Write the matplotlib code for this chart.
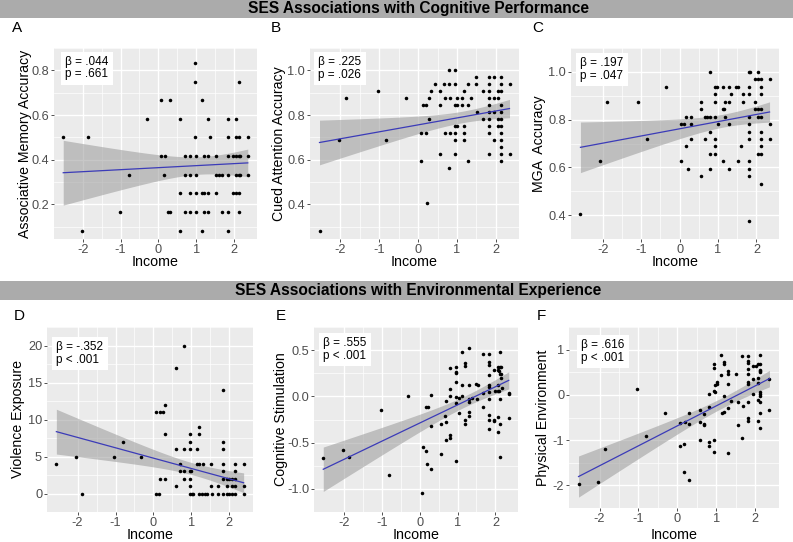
import numpy as np
import matplotlib
matplotlib.use("Agg")
import matplotlib.pyplot as plt
from matplotlib.patches import Rectangle

plt.rcParams['font.family'] = ['Liberation Sans', 'DejaVu Sans']
plt.rcParams['axes.unicode_minus'] = False

# ---------------- data ----------------
A_income = [0.98,
            0.98, 2.14,
            0.06, 0.30, 1.15,
            -0.31, 0.58, 1.31, 1.84, 2.06,
            -2.52, -1.87, 0.98, 1.38, 1.84, 2.06, 2.13, 2.37,
            0.06, 0.18, 0.71, 0.83, 0.99, 1.20, 1.31, 1.53, 1.84, 1.97, 2.06, 2.13, 2.17, 2.37,
            -0.79, 0.15, 0.71, 0.83, 0.99, 1.53, 1.62, 1.69, 1.84, 2.06, 2.13, 2.17, 2.37,
            0.58, 0.83, 1.00, 1.15, 1.21, 1.31, 1.53, 1.97, 2.06, 2.13,
            -1.02, 0.26, 0.32, 0.71, 0.83, 0.99, 1.21, 1.31, 1.69, 1.84, 2.15,
            -2.01, 0.58, 1.15, 1.84]
A_memory = [0.833,
            0.750, 0.750,
            0.667, 0.667, 0.667,
            0.583, 0.583, 0.583, 0.583, 0.583,
            0.500, 0.500, 0.500, 0.500, 0.500, 0.500, 0.500, 0.500,
            0.417, 0.417, 0.417, 0.417, 0.417, 0.417, 0.417, 0.417, 0.417, 0.417, 0.417, 0.417, 0.417, 0.417,
            0.333, 0.333, 0.333, 0.333, 0.333, 0.333, 0.333, 0.333, 0.333, 0.333, 0.333, 0.333, 0.333,
            0.250, 0.250, 0.250, 0.250, 0.250, 0.250, 0.250, 0.250, 0.250, 0.250,
            0.167, 0.167, 0.167, 0.167, 0.167, 0.167, 0.167, 0.167, 0.167, 0.167, 0.167,
            0.083, 0.083, 0.083, 0.083]

B_income = [0.80, 0.95,
            1.49, 1.82, 1.94, 2.12,
            0.43, 0.66, 0.79, 0.95, 1.29, 1.49, 1.81, 2.12, 2.35,
            -1.04, 0.32, 0.57, 1.18, 1.67, 1.82, 2.06, 2.12,
            -1.87, -0.32, 0.29, 0.69, 0.81, 0.99, 1.13, 1.36, 1.82, 1.94, 2.06,
            0.13, 0.19, 0.57, 0.95, 1.00, 1.13, 1.29, 1.82, 2.12,
            1.52, 1.82, 1.94, 2.12,
            0.29, 1.67, 1.82, 2.06, 2.12,
            0.95, 1.01, 1.18, 1.82, 2.06, 2.12,
            0.06, 0.19, 0.69, 0.81, 0.95, 1.18, 1.82, 2.12,
            -2.03, -0.82, 0.95, 1.18, 1.94, 2.12,
            2.12,
            0.57, 0.95, 1.82, 2.12, 2.35,
            0.06, 1.29, 2.12,
            0.80,
            0.22,
            -2.54]
B_attention = [1.000, 1.000,
               0.969, 0.969, 0.969, 0.969,
               0.938, 0.938, 0.938, 0.938, 0.938, 0.938, 0.938, 0.938, 0.938,
               0.906, 0.906, 0.906, 0.906, 0.906, 0.906, 0.906, 0.906,
               0.875, 0.875, 0.875, 0.875, 0.875, 0.875, 0.875, 0.875, 0.875, 0.875, 0.875,
               0.844, 0.844, 0.844, 0.844, 0.844, 0.844, 0.844, 0.844, 0.844,
               0.813, 0.813, 0.813, 0.813,
               0.781, 0.781, 0.781, 0.781, 0.781,
               0.750, 0.750, 0.750, 0.750, 0.750, 0.750,
               0.719, 0.719, 0.719, 0.719, 0.719, 0.719, 0.719, 0.719,
               0.688, 0.688, 0.688, 0.688, 0.688, 0.688,
               0.656,
               0.625, 0.625, 0.625, 0.625, 0.625,
               0.594, 0.594, 0.594,
               0.563,
               0.406,
               0.281]

C_income = [0.79, 1.81, 1.84, 2.05,
            1.96, 2.05, 2.11, 2.34,
            -0.35, 0.93, 0.96, 1.12, 1.29, 1.48, 1.51, 1.81, 2.11,
            0.93, 1.34, 1.65, 1.81, 2.11,
            -1.90, -1.07, 0.55, 0.93, 1.19, 1.29, 1.65, 1.96,
            0.55, 1.12, 1.16, 1.96, 2.05, 2.11,
            0.16, 0.29, 0.66, 0.70, 0.79, 0.93, 1.19, 1.81, 2.05, 2.11,
            0.04, 0.11, 0.29, 1.00, 1.29, 1.81, 2.34,
            0.79, 1.81, 2.11,
            -0.84, 0.29, 0.66, 0.93, 1.81, 2.11, 2.34,
            0.16, 0.93, 1.61, 2.11,
            0.79, 0.93, 2.05, 2.11,
            -2.06, 0.04, 1.12, 1.51, 1.81,
            0.21, 0.79, 1.29, 1.81,
            0.55, 1.81,
            2.11,
            -2.58,
            1.81]
C_mga = [1.000, 1.000, 1.000, 1.000,
         0.969, 0.969, 0.969, 0.969,
         0.938, 0.938, 0.938, 0.938, 0.938, 0.938, 0.938, 0.938, 0.938,
         0.906, 0.906, 0.906, 0.906, 0.906,
         0.875, 0.875, 0.875, 0.875, 0.875, 0.875, 0.875, 0.875,
         0.844, 0.844, 0.844, 0.844, 0.844, 0.844,
         0.813, 0.813, 0.813, 0.813, 0.813, 0.813, 0.813, 0.813, 0.813, 0.813,
         0.781, 0.781, 0.781, 0.781, 0.781, 0.781, 0.781,
         0.750, 0.750, 0.750,
         0.719, 0.719, 0.719, 0.719, 0.719, 0.719, 0.719,
         0.688, 0.688, 0.688, 0.688,
         0.656, 0.656, 0.656, 0.656,
         0.625, 0.625, 0.625, 0.625, 0.625,
         0.594, 0.594, 0.594, 0.594,
         0.563, 0.563,
         0.531,
         0.406,
         0.375]

D_income = [0.81,
            0.59,
            1.84,
            0.30,
            0.08, 0.18, 0.25,
            1.20,
            0.30, 0.97, 1.20,
            -0.81, 0.97, 1.84,
            0.59, 0.81, 0.97, 1.16, 1.84,
            -2.05, -1.05, -0.32,
            -2.56, 0.70, 1.16, 1.21, 1.31, 1.52, 1.84, 2.15, 2.38,
            0.70, 0.81, 0.97, 1.00, 1.84, 2.15,
            0.18, 0.30, 0.81, 0.97, 1.84, 1.95, 2.00, 2.08, 2.15,
            0.59, 0.97, 1.52, 1.70, 1.95, 2.08, 2.15, 2.38,
            -1.88, 0.08, 0.15, 0.97, 1.01, 1.05, 1.20, 1.27, 1.37, 1.41, 1.54, 1.70, 1.84, 1.95, 2.00, 2.08, 2.15, 2.38]
D_violence = [20,
              17,
              14,
              12,
              11, 11, 11,
              9,
              8, 8, 8,
              7, 7, 7,
              6, 6, 6, 6, 6,
              5, 5, 5,
              4, 4, 4, 4, 4, 4, 4, 4, 4,
              3, 3, 3, 3, 3, 3,
              2, 2, 2, 2, 2, 2, 2, 2, 2,
              1, 1, 1, 1, 1, 1, 1, 1,
              0, 0, 0, 0, 0, 0, 0, 0, 0, 0, 0, 0, 0, 0, 0, 0, 0, 0]

E_income = [1.30, 1.12, 2.13, 1.67, 1.82, 1.19, 1.19, 1.82, 1.82, 0.80,
            0.96, 2.07, 2.11, 2.14, 1.96, 2.06, 2.09, 0.96, 0.96, 2.11,
            2.14, 1.82, 2.14, 0.96, 1.13, 1.30, 1.49, 1.54, 1.82, 1.82,
            2.06, 2.18, 0.80, 2.00, 2.06, 2.09, 1.84, 1.67, 2.35, 2.35,
            -0.30, 0.30, 0.80, 1.12, 0.97, 1.03, 1.30, 1.37, 2.11, 1.52,
            1.84, 0.69, 0.97, 1.30, 0.18, 0.23, 1.66, -1.03, 1.04, 1.30,
            0.68, 1.82, 1.30, 2.06, 2.35, 1.82, 1.96, 1.19, 0.69, 1.96,
            0.57, 1.19, 2.13, 0.30, 2.06, 1.82, 0.80, 0.80, 0.69, 0.08,
            0.16, 0.57, -2.02, -1.86, -2.54, 2.13, 0.19, 0.96, 0.31, -0.81,
            0.07]
E_stimulation = [0.527, 0.485, 0.485, 0.460, 0.460, 0.360, 0.327, 0.370, 0.340, 0.310,
                 0.320, 0.315, 0.315, 0.315, 0.290, 0.280, 0.270, 0.267, 0.255, 0.240,
                 0.240, 0.236, 0.197, 0.158, 0.120, 0.120, 0.130, 0.120, 0.120, 0.106,
                 0.120, 0.090, 0.076, 0.060, 0.055, 0.055, 0.045, 0.040, 0.036, 0.024,
                 0.006, 0.018, 0.000, 0.006, -0.010, -0.015, -0.024, -0.021, -0.030, -0.030,
                 -0.030, -0.055, -0.076, -0.060, -0.110, -0.115, -0.120, -0.150, -0.176, -0.167,
                 -0.210, -0.206, -0.210, -0.227, -0.230, -0.258, -0.258, -0.258, -0.273, -0.270,
                 -0.300, -0.297, -0.297, -0.324, -0.380, -0.357, -0.420, -0.450, -0.476, -0.545,
                 -0.590, -0.627, -0.576, -0.650, -0.670, -0.660, -0.733, -0.703, -0.790, -0.855,
                 -1.040]

F_income = [1.12, 1.66, 1.83, 2.12, 1.20, 1.20, 1.83, 1.83, 0.95, 0.95,
            1.95, 2.02, 2.07, 2.12, 1.31, 1.31, 1.12, 1.50, 1.83, 2.12,
            2.12, 2.12, 1.83, 2.07, 2.37, 1.83, 1.83, 2.07, 1.01, 0.97,
            1.31, 1.95, 1.01, 0.95, 0.98, -1.04, 0.82, 1.95, 2.12, 2.12,
            2.12, 1.20, 2.07, 2.12, 1.38, 1.56, 1.83, 1.68, 0.82, 1.31,
            1.20, 1.15, 0.59, 2.36, -0.31, 0.29, 0.69, 2.12, 1.83, 1.83,
            2.07, 0.20, 0.07, 0.59, 0.69, 0.69, 0.29, 1.56, 2.12, -0.80,
            1.66, 0.59, 0.95, 0.82, 0.82, 0.16, 0.07, -1.87, 0.95, 1.31,
            0.18, 0.31, -2.03, -2.54]
F_environment = [0.88, 0.85, 0.85, 0.88, 0.73, 0.68, 0.74, 0.71, 0.68, 0.60,
                 0.63, 0.63, 0.68, 0.68, 0.52, 0.47, 0.44, 0.46, 0.46, 0.56,
                 0.53, 0.50, 0.58, 0.38, 0.35, 0.29, 0.23, 0.26, 0.24, 0.21,
                 0.23, 0.35, 0.29, 0.09, 0.07, 0.13, 0.01, 0.01, 0.055, 0.01,
                 -0.03, -0.02, -0.11, -0.15, -0.14, -0.15, -0.15, -0.24, -0.27, -0.30,
                 -0.37, -0.40, -0.34, -0.34, -0.39, -0.39, -0.43, -0.40, -0.51, -0.57,
                 -0.57, -0.60, -0.62, -0.60, -0.64, -0.67, -0.65, -0.67, -0.73, -0.90,
                 -0.95, -0.99, -0.99, -1.04, -1.13, -1.09, -1.12, -1.19, -1.26, -1.29,
                 -1.71, -1.88, -1.92, -1.97]

# fitted regression line (value at lowest / highest income) and CI half-width at lowest income
fit_at_min_income = [0.342, 0.677, 0.684, 8.36, -0.788, -1.805]
fit_at_max_income = [0.386, 0.829, 0.832, 1.45, 0.173, 0.360]
ci_half_at_min_income = [0.145, 0.100, 0.106, 3.03, 0.240, 0.455]

panel_letters = ["A", "B", "C", "D", "E", "F"]
y_titles = ["Associative Memory Accuracy", "Cued Attention Accuracy", "MGA  Accuracy",
            "Violence Exposure", "Cognitive Stimulation", "Physical Environment"]
stats_text = ["\u03b2 = .044\np = .661", "\u03b2 = .225\np = .026", "\u03b2 = .197\np = .047",
              "\u03b2 = -.352\np < .001", "\u03b2 = .555\np < .001", "\u03b2 = .616\np < .001"]
y_ticks = [[0.2, 0.4, 0.6, 0.8], [0.4, 0.6, 0.8, 1.0], [0.4, 0.6, 0.8, 1.0],
           [0, 5, 10, 15, 20], [-1.0, -0.5, 0.0, 0.5], [-2, -1, 0, 1]]
y_ticklabels = [["0.2", "0.4", "0.6", "0.8"], ["0.4", "0.6", "0.8", "1.0"],
                ["0.4", "0.6", "0.8", "1.0"], ["0", "5", "10", "15", "20"],
                ["-1.0", "-0.5", "0.0", "0.5"], ["-2", "-1", "0", "1"]]
x_ticks = [-2, -1, 0, 1, 2]
headers = ["SES Associations with Cognitive Performance",
           "SES Associations with Environmental Experience"]

xs_all = [A_income, B_income, C_income, D_income, E_income, F_income]
ys_all = [A_memory, B_attention, C_mga, D_violence, E_stimulation, F_environment]

# ---------------- layout (pixels) ----------------
W, H = 793, 542
fig = plt.figure(figsize=(W / 100, H / 100), dpi=100)
fig.patch.set_facecolor("white")

panels = [(54, 257, 48, 239), (310, 519, 48, 239), (571, 779, 48, 239),
          (47, 253, 327, 512), (314, 518, 327, 512), (569, 779, 327, 508)]
ytitle_x = [25, 279, 539, 18, 281, 543]
xtitle_y = [262, 262, 262, 535, 535, 535]
letter_pos = [(17, 28), (276, 28), (538, 28), (19, 316), (281, 316), (541, 316)]
box_off = [(6.7, 3.7), (4, 4), (5, 5), (5, 10), (5, 6), (8, 8)]


def fx(px):
    return px / W


def fy(py):
    return 1 - py / H


# header bars
for (top, bot), txt in zip([(0, 18), (281, 300)], headers):
    fig.patches.append(Rectangle((0, fy(bot)), 1, (bot - top) / H, transform=fig.transFigure,
                                 facecolor="#ABABAB", edgecolor="none", zorder=0))
    fig.text(fx(418), fy((top + bot) / 2), txt, ha="center", va="center",
             fontsize=11.2, fontweight="bold", color="black")

for i in range(6):
    l, r, t, b = panels[i]
    ax = fig.add_axes([fx(l), fy(b), (r - l) / W, (b - t) / H])
    ax.set_facecolor("#EBEBEB")
    x = np.array(xs_all[i], dtype=float)
    y = np.array(ys_all[i], dtype=float)

    # regression line through the read end values; CI band shaped like an OLS band
    x0, x1 = x.min(), x.max()
    xg = np.linspace(x0, x1, 80)
    yg = np.interp(xg, [x0, x1], [fit_at_min_income[i], fit_at_max_income[i]])
    n = len(x)
    xm = x.mean()
    sxx = np.sum((x - xm) ** 2)
    shape = np.sqrt(1 / n + (xg - xm) ** 2 / sxx)
    half = ci_half_at_min_income[i] * shape / shape[0]
    ax.fill_between(xg, yg - half, yg + half, color="#999999", alpha=0.55,
                    linewidth=0, zorder=2)
    ax.scatter(x, y, s=6.5, color="black", linewidths=0, zorder=3)
    ax.plot(xg, yg, color="#3B3BB8", linewidth=0.9, zorder=4)

    ax.margins(x=0.05, y=0.05)
    ax.set_xticks(x_ticks)
    ax.set_xticklabels([str(v) for v in x_ticks])
    ax.set_yticks(y_ticks[i])
    ax.set_yticklabels(y_ticklabels[i])
    xt = np.array(x_ticks, dtype=float)
    yt = np.array(y_ticks[i], dtype=float)
    ax.set_xticks(xt[:-1] + 0.5, minor=True)
    dy = yt[1] - yt[0]
    ax.set_yticks(np.concatenate([[yt[0] - dy / 2], yt + dy / 2]), minor=True)
    ax.grid(True, which="major", color="white", linewidth=1.0, zorder=1)
    ax.grid(True, which="minor", color="white", linewidth=0.5, zorder=1)
    ax.set_axisbelow(True)
    for sp in ax.spines.values():
        sp.set_visible(False)
    ax.tick_params(axis="both", which="major", length=2.5, width=0.6, color="#333333",
                   labelsize=9.2, labelcolor="#4D4D4D", pad=1.0)
    ax.tick_params(axis="both", which="minor", length=0)

    # stats label box
    bx, by = box_off[i]
    pad_px = 4.3
    ax.annotate(stats_text[i], xy=(0, 1), xycoords="axes fraction",
                xytext=((bx + pad_px) * 0.72, -(by + pad_px) * 0.72), textcoords="offset points",
                ha="left", va="top", fontsize=8.5, color="black", linespacing=1.05, zorder=6,
                bbox=dict(boxstyle="square,pad=0.36", facecolor="white", edgecolor="none"))

    fig.text(fx(ytitle_x[i]), fy((t + b) / 2), y_titles[i], rotation=90,
             ha="center", va="center", fontsize=10.2, color="black")
    fig.text(fx((l + r) / 2), fy(xtitle_y[i]), "Income", ha="center", va="center",
             fontsize=10.3, color="black")
    lx, ly = letter_pos[i]
    fig.text(fx(lx), fy(ly), panel_letters[i], ha="center", va="center",
             fontsize=11, color="black")

fig.savefig("out.png", dpi=100)
